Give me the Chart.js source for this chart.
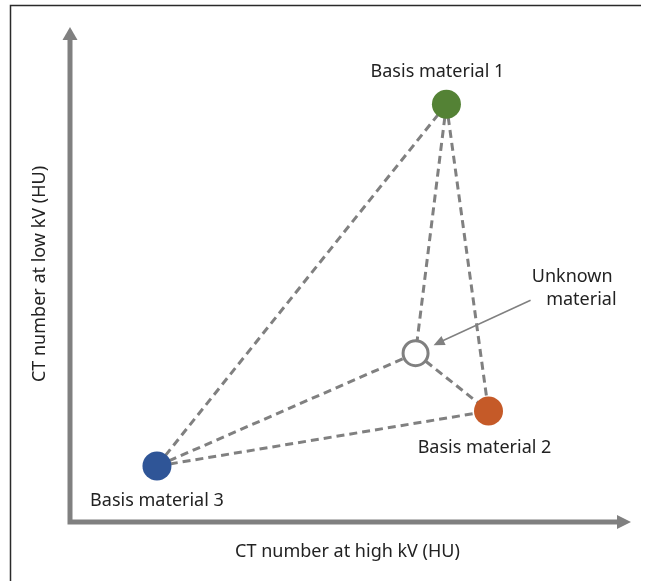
<!DOCTYPE html>
<html>
<head>
<meta charset="utf-8">
<script src="https://cdn.jsdelivr.net/npm/chart.js@4"></script>
<style>
  body { margin: 0; background: #fff; }
  canvas { display: block; }
</style>
</head>
<body>
<canvas id="dualEnergyChart" width="650" height="581"></canvas>
<script>
// materials and their CT numbers (arbitrary units, 0-100 on both axes)
const materials = ['Basis material 1', 'Basis material 2', 'Basis material 3', 'Unknown material']
const highKV = [67.1, 74.6, 15.5, 61.6]
const lowKV = [84.4, 22.4, 11.3, 34.1]
const colors = ['#548235', '#c55a28', '#2f5597', '#ffffff']
// which materials are joined by dashed lines
const links = [[0, 2], [0, 3], [0, 1], [2, 3], [2, 1], [3, 1]]
const xTitle = 'CT number at high kV (HU)'
const yTitle = 'CT number at low kV (HU)'

const gray = '#808080'
const fontFam = '"Noto Sans", sans-serif'

const linkSets = links.map(l => {
    return {
        type: 'scatter',
        showLine: true,
        data: l.map(i => ({ x: highKV[i], y: lowKV[i] })),
        borderColor: gray,
        borderWidth: 3,
        borderDash: [8, 5],
        pointRadius: 0,
        order: 2
    }
})

const pointSet = {
    type: 'scatter',
    data: materials.map((m, i) => ({ x: highKV[i], y: lowKV[i] })),
    backgroundColor: colors,
    borderColor: colors.map((c, i) => i === 3 ? gray : c),
    borderWidth: materials.map((m, i) => i === 3 ? 3 : 0),
    pointRadius: materials.map((m, i) => i === 3 ? 12.5 : 14.5),
    order: 0
}

// label offsets from their point, px
const labelOffsets = [[-9, -32], [-4, 37], [0, 35]]

const decor = {
    id: 'decor',
    beforeDraw(chart) {
        const ctx = chart.ctx
        const a = chart.chartArea
        ctx.save()
        // frame (top and left edges only)
        ctx.strokeStyle = '#2a2a2a'
        ctx.lineWidth = 1.5
        ctx.beginPath()
        ctx.moveTo(641, 5.5)
        ctx.lineTo(10.5, 5.5)
        ctx.lineTo(10.5, 581)
        ctx.stroke()

        // axes with arrows
        ctx.strokeStyle = gray
        ctx.fillStyle = gray
        ctx.lineWidth = 5
        ctx.beginPath()
        ctx.moveTo(a.left, a.top + 10)
        ctx.lineTo(a.left, a.bottom)
        ctx.lineTo(a.right - 12, a.bottom)
        ctx.stroke()
        ctx.beginPath()
        ctx.moveTo(a.left, a.top)
        ctx.lineTo(a.left - 7.5, a.top + 13)
        ctx.lineTo(a.left + 7.5, a.top + 13)
        ctx.closePath()
        ctx.fill()
        ctx.beginPath()
        ctx.moveTo(a.right, a.bottom)
        ctx.lineTo(a.right - 14, a.bottom - 7)
        ctx.lineTo(a.right - 14, a.bottom + 7)
        ctx.closePath()
        ctx.fill()

        // axis titles
        ctx.fillStyle = '#222'
        ctx.font = '18px ' + fontFam
        ctx.textAlign = 'center'
        ctx.textBaseline = 'middle'
        ctx.fillText(xTitle, (a.left + a.right) / 2 - 3, 552)
        ctx.translate(40, 274)
        ctx.rotate(-Math.PI / 2)
        ctx.fillText(yTitle, 0, 0)
        ctx.restore()
    },
    afterDatasetsDraw(chart) {
        const ctx = chart.ctx
        const meta = chart.getDatasetMeta(chart.data.datasets.length - 1)
        ctx.save()
        ctx.fillStyle = '#222'
        ctx.font = '18px ' + fontFam
        ctx.textAlign = 'center'
        ctx.textBaseline = 'middle'
        labelOffsets.forEach((o, i) => {
            const p = meta.data[i]
            ctx.fillText(materials[i], p.x + o[0], p.y + o[1])
        })
        // unknown material callout
        const u = meta.data[3]
        ctx.textAlign = 'right'
        ctx.fillText('Unknown', u.x + 197, u.y - 76)
        ctx.fillText('material', u.x + 201, u.y - 53)
        const sx = u.x + 115, sy = u.y - 53
        const tx = u.x + 18, ty = u.y - 8
        ctx.strokeStyle = gray
        ctx.fillStyle = gray
        ctx.lineWidth = 1.5
        ctx.beginPath()
        ctx.moveTo(sx, sy)
        ctx.lineTo(tx + 8, ty - 4)
        ctx.stroke()
        const ang = Math.atan2(ty - sy, tx - sx)
        ctx.beginPath()
        ctx.moveTo(tx, ty)
        ctx.lineTo(tx - 11 * Math.cos(ang) + 5 * Math.sin(ang), ty - 11 * Math.sin(ang) - 5 * Math.cos(ang))
        ctx.lineTo(tx - 11 * Math.cos(ang) - 5 * Math.sin(ang), ty - 11 * Math.sin(ang) + 5 * Math.cos(ang))
        ctx.closePath()
        ctx.fill()
        ctx.restore()
    }
}

const chartCtx = document.getElementById('dualEnergyChart').getContext('2d')
const dualEnergyChart = new Chart(chartCtx, {
    type: 'scatter',
    data: {
        datasets: linkSets.concat([pointSet])
    },
    options: {
        responsive: false,
        animation: false,
        events: [],
        layout: {
            padding: { left: 70, right: 19, top: 27, bottom: 59 }
        },
        plugins: {
            legend: { display: false },
            tooltip: { enabled: false }
        },
        scales: {
            x: { display: false, min: 0, max: 100 },
            y: { display: false, min: 0, max: 100 }
        }
    },
    plugins: [decor]
})
</script>
</body>
</html>
